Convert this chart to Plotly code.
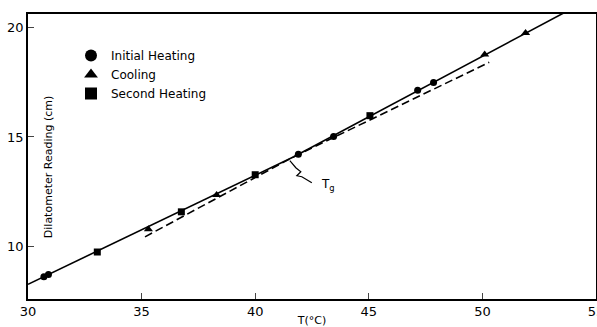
import plotly.graph_objects as go

# Dilatometer readings (cm) versus temperature (°C)
heat1_T = [30.7, 30.9, 41.9, 43.45, 47.15, 47.85]
heat1_R = [8.63, 8.74, 14.21, 15.02, 17.13, 17.48]

cool_T = [35.3, 38.3, 50.1, 51.9]
cool_R = [10.80, 12.36, 18.76, 19.74]

heat2_T = [33.05, 36.75, 40.0, 45.05]
heat2_R = [9.76, 11.59, 13.28, 15.97]

# Fitted straight lines below (glassy) and above (rubbery) the transition
glass_T = [30.0, 41.7, 50.3]
glass_R = [8.29, 14.10, 18.40]
rubber_T = [35.15, 41.7, 55.0]
rubber_R = [10.45, 14.10, 21.43]

Tg_T, Tg_R = glass_T[1], glass_R[1]

x_ticks = [30, 35, 40, 45, 50, 55]
y_ticks = [10, 15, 20]

FONT = "DejaVu Sans"
INK = "black"

fig = go.Figure()

# solid curve: glassy branch up to Tg, rubbery branch beyond
fig.add_trace(go.Scatter(x=glass_T[:2], y=glass_R[:2], mode="lines",
                         line=dict(color=INK, width=1.6), showlegend=False, hoverinfo="skip"))
fig.add_trace(go.Scatter(x=rubber_T[1:], y=rubber_R[1:], mode="lines",
                         line=dict(color=INK, width=1.6), showlegend=False, hoverinfo="skip"))
# dashed extrapolations of each branch past Tg
fig.add_trace(go.Scatter(x=rubber_T[:2], y=rubber_R[:2], mode="lines",
                         line=dict(color=INK, width=1.6, dash="8px,4px"), showlegend=False, hoverinfo="skip"))
fig.add_trace(go.Scatter(x=glass_T[1:], y=glass_R[1:], mode="lines",
                         line=dict(color=INK, width=1.6, dash="8px,4px"), showlegend=False, hoverinfo="skip"))

fig.add_trace(go.Scatter(x=heat1_T, y=heat1_R, mode="markers", name="Initial Heating",
                         marker=dict(symbol="circle", size=7, color=INK)))
fig.add_trace(go.Scatter(x=cool_T, y=cool_R, mode="markers", name="Cooling",
                         marker=dict(symbol="triangle-up", size=8, color=INK)))
fig.add_trace(go.Scatter(x=heat2_T, y=heat2_R, mode="markers", name="Second Heating",
                         marker=dict(symbol="square", size=7, color=INK)))

# Tg leader with a small break (zigzag)
ux, uy = 1 / 22.72, 1 / 21.96  # data units per pixel
pts = [(-4, -4), (2, -11), (7, -15), (3, -19), (8, -20), (18, -26)]
path = "M " + " L ".join(f"{Tg_T + dx * ux:.4f},{Tg_R + dy * uy:.4f}" for dx, dy in pts)
fig.add_shape(type="path", path=path, xref="x", yref="y",
              line=dict(color=INK, width=1.2))
fig.add_annotation(x=Tg_T + 25 * ux, y=Tg_R - 28 * uy, xref="x", yref="y",
                   text="T<sub>g</sub>", showarrow=False, xanchor="left", yanchor="middle",
                   font=dict(family=FONT, size=12, color=INK))

# y-axis title sits inside the frame
fig.add_annotation(x=(40 - 28) / 568, y=13.6, xref="paper", yref="y",
                   text="Dilatometer Reading (cm)", textangle=-90, showarrow=False,
                   font=dict(family=FONT, size=11, color=INK))

fig.update_layout(
    width=597, height=327,
    margin=dict(l=28, r=1, t=14, b=28),
    paper_bgcolor="white", plot_bgcolor="white",
    font=dict(family=FONT, size=12, color=INK),
    legend=dict(x=(71 - 28) / 568, y=1 - (41 - 14) / 285, xanchor="left", yanchor="top",
                bgcolor="rgba(0,0,0,0)", font=dict(family=FONT, size=12, color=INK),
                itemsizing="constant", tracegroupgap=0),
    xaxis=dict(range=[30, 55], tickvals=x_ticks, ticks="inside", ticklen=6, tickwidth=1.2,
               showline=True, mirror=True, linecolor=INK, linewidth=1.5,
               showgrid=False, zeroline=False, tickfont=dict(size=13),
               ticklabeloverflow="allow", automargin=False,
               title=dict(text="T(°C)", font=dict(size=11), standoff=2)),
    yaxis=dict(range=[7.62, 20.6], tickvals=y_ticks, ticks="inside", ticklen=6, tickwidth=1.2,
               showline=True, mirror=True, linecolor=INK, linewidth=1.5,
               showgrid=False, zeroline=False, tickfont=dict(size=13), automargin=False),
)

fig.write_html("out.html")
